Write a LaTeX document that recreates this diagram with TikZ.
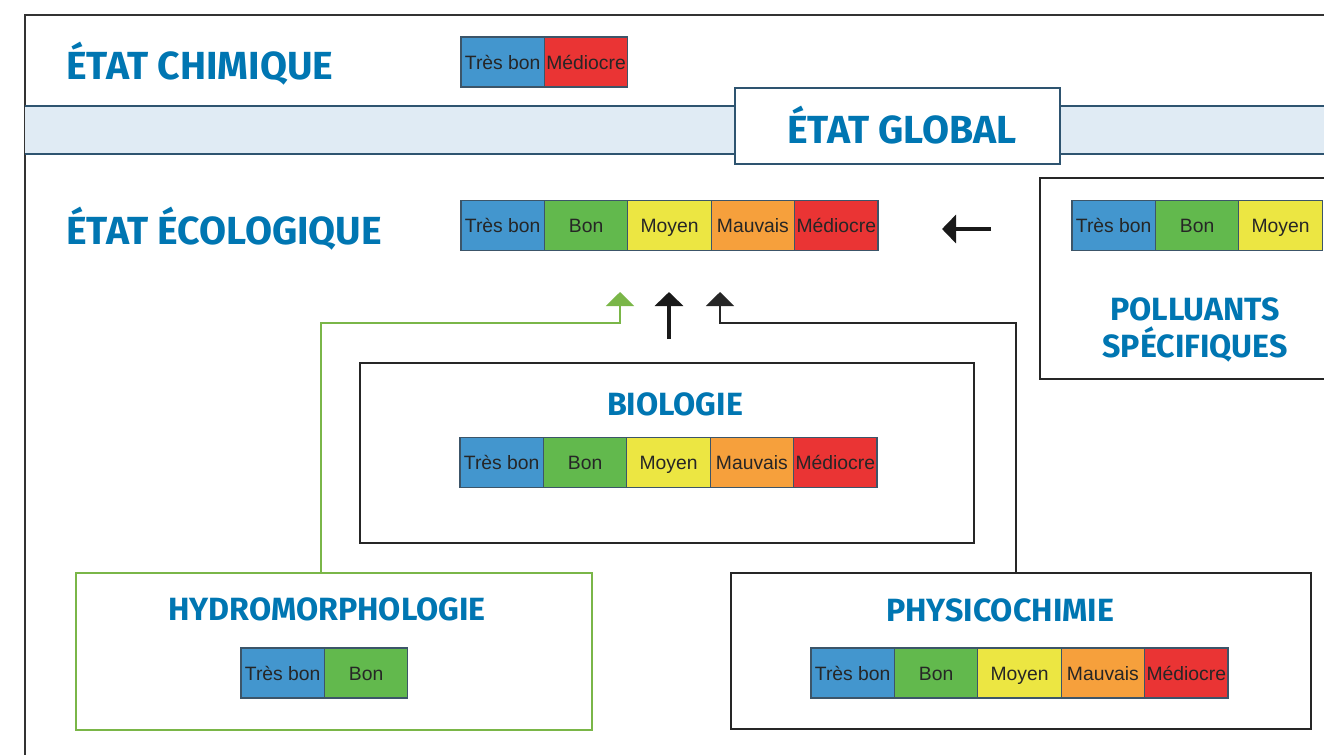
\documentclass[tikz,border=0pt]{standalone}
\usepackage{fontspec}
\setmainfont{Liberation Sans}
\newfontfamily\headfont{Fira Sans}
\usetikzlibrary{arrows.meta}

\definecolor{headblue}{RGB}{0,118,178}
\definecolor{bandfill}{RGB}{224,235,244}
\definecolor{bandline}{RGB}{46,84,112}
\definecolor{cellline}{RGB}{60,85,105}
\definecolor{hydrogreen}{RGB}{122,182,72}
\definecolor{cblue}{RGB}{67,150,206}
\definecolor{cgreen}{RGB}{98,185,77}
\definecolor{cyellow}{RGB}{236,230,66}
\definecolor{corange}{RGB}{246,160,60}
\definecolor{cred}{RGB}{234,52,52}

% quality scale: name, left x, centre y, list of label/colour
\newcommand{\qualbar}[4]{%
  \foreach \lab/\col [count=\i] in {#4}
    \node[cell, fill=\col] (#1-\i) at ({#2+(\i-0.5)*\cw}, #3) {\lab};
}

\begin{document}
\begin{tikzpicture}[
  x=0.02cm, y=-0.02cm,
  head/.style={
    font=\headfont\bfseries\fontsize{22.3}{26}\selectfont,
    text=headblue,
    inner sep=0pt
  },
  subhead/.style={
    font=\headfont\bfseries\fontsize{18.3}{22}\selectfont,
    text=headblue,
    inner sep=0pt
  },
  cell/.style={
    draw=cellline,
    line width=0.6pt,
    minimum width=1.668cm,
    minimum height=1.0cm,
    inner sep=0pt,
    text height=8pt,
    text depth=0pt,
    text=black!85,
    font=\fontsize{11}{13}\selectfont
  },
  panel/.style={
    draw=black!85,
    line width=1.2pt,
    inner sep=0pt
  },
  link/.style={
    line width=1.15pt,
    -{Triangle[width=0.56cm,length=0.28cm]}
  }
]

% --- Page and outer frame ---
\fill[white] (0,0) rectangle (1324,754);
\useasboundingbox (0,0) rectangle (1324,754);
\draw[black!80, line width=1.5pt] (25,800) -- (25,15) -- (1400,15);

% --- Band behind the global state ---
\fill[bandfill] (25,106) rectangle (1324,154);
\draw[bandline, line width=0.8pt] (25,106) -- (1324,106);
\draw[bandline, line width=0.8pt] (25,154) -- (1324,154);

\pgfmathsetmacro{\cw}{83.4}   % cell width

% --- Chemical state ---
\node[head, anchor=base west] (chimT) at (66,79) {ÉTAT CHIMIQUE};
\qualbar{chim}{461}{62}{Très bon/cblue, Médiocre/cred}

% --- Global state ---
\node[draw=bandline, line width=0.8pt, fill=white,
      minimum width=6.5cm, minimum height=1.52cm] (global) at (897.5,126) {};
\node[head, anchor=base] (globalT) at (902,143) {ÉTAT GLOBAL};

% --- Ecological state ---
\node[head, anchor=base west] (ecoT) at (66,244) {ÉTAT ÉCOLOGIQUE};
\qualbar{eco}{461}{225.5}{Très bon/cblue, Bon/cgreen, Moyen/cyellow, Mauvais/corange, Médiocre/cred}

% --- Specific pollutants (runs off the right edge) ---
\node[panel, minimum width=7.2cm, minimum height=4.02cm] (poll) at (1220,278.5) {};
\qualbar{poll}{1072}{225.5}{Très bon/cblue, Bon/cgreen, Moyen/cyellow}
\node[subhead, anchor=base] (pollT1) at (1195,320) {POLLUANTS};
\node[subhead, anchor=base] (pollT2) at (1195,357) {SPÉCIFIQUES};

% --- Biology ---
\node[panel, minimum width=12.28cm, minimum height=3.6cm] (bio) at (667,453) {};
\node[subhead, anchor=base] (bioT) at (675,415) {BIOLOGIE};
\qualbar{bio}{460}{462.5}{Très bon/cblue, Bon/cgreen, Moyen/cyellow, Mauvais/corange, Médiocre/cred}

% --- Hydromorphology ---
\node[panel, draw=hydrogreen, minimum width=10.32cm, minimum height=3.14cm] (hydro) at (334,651.5) {};
\node[subhead, anchor=base] (hydroT) at (327,620) {HYDROMORPHOLOGIE};
\qualbar{hydro}{241}{673}{Très bon/cblue, Bon/cgreen}

% --- Physico-chemistry ---
\node[panel, minimum width=11.6cm, minimum height=3.12cm] (phys) at (1021,651) {};
\node[subhead, anchor=base] (physT) at (1000,621) {PHYSICOCHIMIE};
\qualbar{phys}{811}{673}{Très bon/cblue, Bon/cgreen, Moyen/cyellow, Mauvais/corange, Médiocre/cred}

% --- Arrows up into the ecological state ---
\coordinate (gBend) at (321,323);
\coordinate (gTip)  at (620,292);
\draw[link, hydrogreen] (hydro.north -| gBend) -- (gBend) -| (gTip);

\coordinate (bBase) at (669,339);
\coordinate (bTip)  at (669,292);
\draw[link, black!90, line width=2.2pt] (bBase) -- (bTip);

\coordinate (pBend) at (1016,323);
\coordinate (pTip)  at (720,292);
\draw[link, black!85] (phys.north -| pBend) -- (pBend) -| (pTip);

% --- Arrow from the pollutants ---
\coordinate (lTail) at (991,229);
\coordinate (lTip)  at (942,229);
\draw[link, black!90, line width=2.2pt] (lTail) -- (lTip);

\end{tikzpicture}
\end{document}
